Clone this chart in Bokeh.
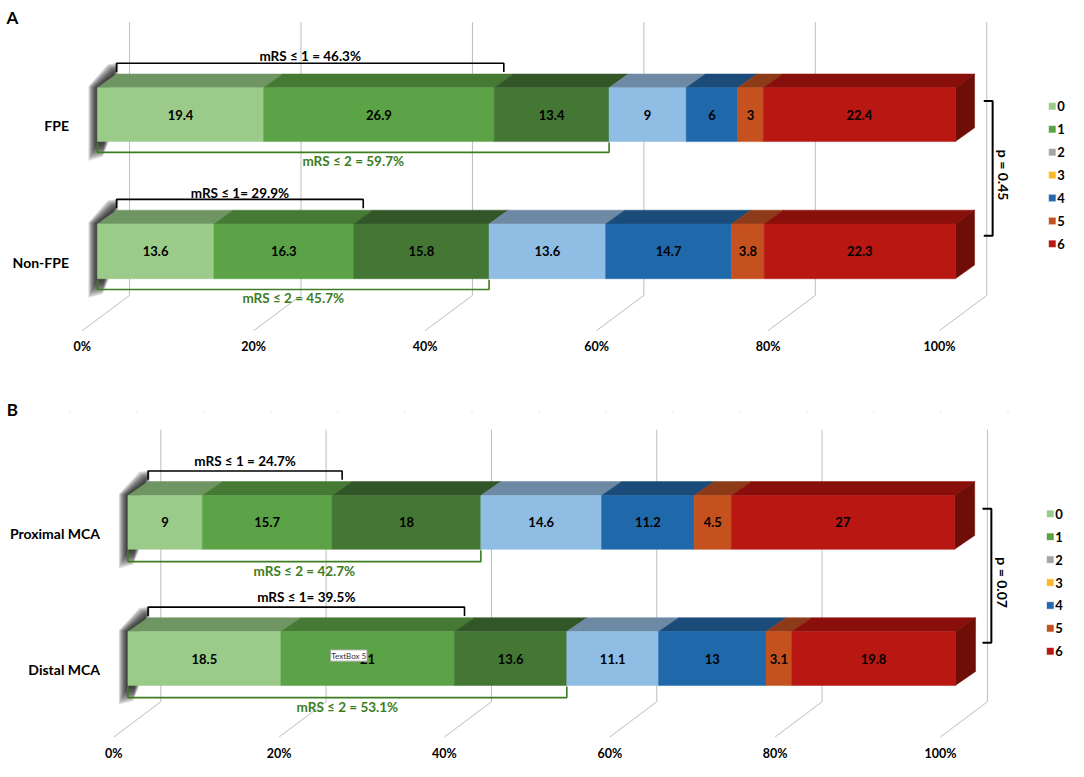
import numpy as np
from bokeh.plotting import figure
from bokeh.models import Range1d
from bokeh.layouts import column
from bokeh.embed import file_html
from bokeh.resources import INLINE
from bokeh.core.properties import value

# ---------------- data ----------------
scores = ["0", "1", "2", "3", "4", "5", "6"]
pct_ticks = [0, 20, 40, 60, 80, 100]
pct_labels = ["0%", "20%", "40%", "60%", "80%", "100%"]

a_groups = ["FPE", "Non-FPE"]
a_fpe = [19.4, 26.9, 13.4, 9, 6, 3, 22.4]
a_nonfpe = [13.6, 16.3, 15.8, 13.6, 14.7, 3.8, 22.3]
a_mrs1 = [46.3, 29.9]
a_mrs2 = [59.7, 45.7]
a_mrs1_labels = ["mRS \u2264 1 = 46.3%", "mRS \u2264 1= 29.9%"]
a_mrs2_labels = ["mRS \u2264 2 = 59.7%", "mRS \u2264 2 = 45.7%"]
a_p = "p = 0.45"

b_groups = ["Proximal MCA", "Distal MCA"]
b_prox = [9, 15.7, 18, 14.6, 11.2, 4.5, 27]
b_dist = [18.5, 21, 13.6, 11.1, 13, 3.1, 19.8]
b_mrs1 = [24.7, 39.5]
b_mrs2 = [42.7, 53.1]
b_mrs1_labels = ["mRS \u2264 1 = 24.7%", "mRS \u2264 1= 39.5%"]
b_mrs2_labels = ["mRS \u2264 2 = 42.7%", "mRS \u2264 2 = 53.1%"]
b_p = "p = 0.07"

# ---------------- styles ----------------
FRONT = ["#9BCB88", "#5BA346", "#437733", "#8FBDE3", "#1F69AB", "#C5511F", "#B81712"]
TOP = ["#6F9563", "#457934", "#335628", "#6D89A3", "#1B4B78", "#8D3A18", "#880F0B"]
SIDE = "#6E0E07"
LEGEND = ["#9BCB88", "#5BA346", "#A5A5A5", "#FDB827", "#2468AE", "#C5511F", "#B81712"]
GREEN_TXT = "#3C7D22"
FONT = value("Lato")

cfgA = dict(s=8.70, x0=131.0, ygt=22, yfb=301, fdx=-48, fdy=36, df=-32.7, dd=19.5, dyd=14,
            bars=[(89, 144), (228, 284)], tick_y=353, cat_x=69.5, p_x=1007, leg_x=1067.5,
            leg_y0=108, m1_dy=-25, m1_tdy=-32, m2_dy=11, m2_tdy=20,
            y0=0, y1=395, height=387, letter="A", letter_xy=(12, 17), dots=None)
cfgB = dict(s=8.39, x0=162.7, ygt=438, yfb=716, fdx=-47.7, fdy=36, df=-33.4, dd=20.5, dyd=14.2,
            bars=[(505.3, 560.3), (644.3, 699.3)], tick_y=769, cat_x=101, p_x=1005.7, leg_x=1065.5,
            leg_y0=524, m1_dy=-25, m1_tdy=-35, m2_dy=12.5, m2_tdy=22,
            y0=395, y1=777, height=374, letter="B", letter_xy=(12, 417), dots=419.5)


def make_panel(cfg, groups, series, mrs1, mrs2, m1_labels, m2_labels, p_label, textbox=None):
    s, x0 = cfg["s"], cfg["x0"]

    def X(px):  # reference pixel -> percent units
        return (px - x0) / s

    p = figure(width=1068, height=cfg["height"],
               x_range=Range1d(X(0), X(1084)), y_range=Range1d(cfg["y1"], cfg["y0"]),
               output_backend="svg", toolbar_location=None, min_border=0,
               x_axis_location=None, y_axis_location=None)
    p.grid.visible = False
    p.outline_line_color = None

    # panel letter
    lx, ly = cfg["letter_xy"]
    p.text(x=[X(lx)], y=[ly], text=[cfg["letter"]], text_font=FONT, text_font_style="bold",
           text_font_size="17px", text_align="center", text_baseline="middle", text_color="black")

    if cfg["dots"] is not None:
        p.line(x=[X(70), X(1082)], y=[cfg["dots"]] * 2, line_color="#D6D6D6", line_width=1.5,
               line_dash="1 66")

    # 3D gridlines: back wall verticals + floor diagonals
    fdx, fdy = cfg["fdx"] / s, cfg["fdy"]
    xs = [[t, t, t + fdx] for t in pct_ticks]
    ys = [[cfg["ygt"], cfg["yfb"], cfg["yfb"] + fdy] for _ in pct_ticks]
    p.multi_line(xs=xs, ys=ys, line_color="#BDBDBD", line_width=1)
    p.text(x=[t + fdx for t in pct_ticks], y=[cfg["tick_y"]] * len(pct_ticks), text=pct_labels,
           text_font=FONT, text_font_style="bold", text_font_size="12.5px",
           text_align="center", text_baseline="middle", text_color="black")

    df, dd, dyd = cfg["df"] / s, cfg["dd"] / s, cfg["dyd"]
    xf_px = x0 + cfg["df"]
    xb_px = xf_px + cfg["dd"]

    for gi, vals in enumerate(series):
        ytop, ybot = cfg["bars"][gi]
        # soft shadow on the left of each bar (many faint layers -> blur)
        for w in np.linspace(13, 1.5, 10):
            pts = [(xb_px + 2, ytop - dyd - w * 0.9), (xb_px - w * 0.7, ytop - dyd - w * 0.75),
                   (xf_px - w * 0.7, ytop - w * 0.1), (xf_px - w * 0.7, ybot + w * 1.5),
                   (xf_px + 12 - w * 0.5, ybot + w * 1.2), (xf_px + 12, ytop)]
            p.patch(x=[X(a) for a, b in pts], y=[b for a, b in pts], fill_color="#111111",
                    fill_alpha=0.14, line_color=None)

        cum = np.cumsum(vals)
        lefts = np.concatenate([[0], cum[:-1]])
        # top faces
        txs, tys = [], []
        for l, r in zip(lefts, cum):
            txs.append([l + df, r + df, r + df + dd, l + df + dd])
            tys.append([ytop, ytop, ytop - dyd, ytop - dyd])
        p.patches(xs=txs, ys=tys, fill_color=TOP, line_color=TOP, line_width=0.5)
        # right side face
        R = cum[-1] + df
        p.patch(x=[R, R + dd, R + dd, R], y=[ytop, ytop - dyd, ybot - dyd, ybot],
                fill_color=SIDE, line_color=SIDE, line_width=0.5)
        # front faces
        p.quad(left=lefts + df, right=cum + df, top=ytop, bottom=ybot,
               fill_color=FRONT, line_color=FRONT, line_width=0.5)
        # value labels
        p.text(x=(lefts + cum) / 2 + df, y=[(ytop + ybot) / 2] * len(vals),
               text=[f"{v:g}" for v in vals], text_font=FONT, text_font_style="bold",
               text_font_size="13px", text_align="center", text_baseline="middle",
               text_color="black")
        # category label
        p.text(x=[X(cfg["cat_x"])], y=[(ytop + ybot) / 2 + 11], text=[groups[gi]],
               text_font=FONT, text_font_style="bold", text_font_size="14px",
               text_align="right", text_baseline="middle", text_color="black")

        # mRS <= 1 bracket (black, above)
        ys1 = ytop + cfg["m1_dy"]
        xs1, xe1 = df + dd, mrs1[gi] + df + dd * 0.5
        p.line(x=[xs1, xs1, xe1, xe1], y=[ytop - 16, ys1, ys1, ytop - 16], line_color="black",
               line_width=1.6)
        p.text(x=[(xs1 + xe1) / 2], y=[ytop + cfg["m1_tdy"]], text=[m1_labels[gi]],
               text_font=FONT, text_font_style="bold", text_font_size="13.5px",
               text_align="center", text_baseline="middle", text_color="black")
        # mRS <= 2 bracket (green, below)
        ys2 = ybot + cfg["m2_dy"]
        xs2, xe2 = df, mrs2[gi] + df
        p.line(x=[xs2, xs2, xe2, xe2], y=[ybot + 1, ys2, ys2, ybot + 1], line_color=GREEN_TXT,
               line_width=1.6)
        p.text(x=[(xs2 + xe2) / 2], y=[ybot + cfg["m2_tdy"]], text=[m2_labels[gi]],
               text_font=FONT, text_font_style="bold", text_font_size="13.5px",
               text_align="center", text_baseline="middle", text_color=GREEN_TXT)

    # p-value bracket
    c1 = sum(cfg["bars"][0]) / 2
    c2 = sum(cfg["bars"][1]) / 2
    top, bot = c1 - 14, c2 - 16
    px_ = X(cfg["p_x"])
    p.line(x=[px_ - 9 / s, px_, px_, px_ - 9 / s], y=[top, top, bot, bot], line_color="black",
           line_width=2)
    p.text(x=[X(cfg["p_x"] + 11)], y=[(top + bot) / 2 + 7], text=[p_label], angle=-np.pi / 2,
           text_font=FONT, text_font_style="bold", text_font_size="14px",
           text_align="center", text_baseline="middle", text_color="black")

    # legend
    ly0 = cfg["leg_y0"]
    p.scatter(x=[X(cfg["leg_x"])] * len(scores), y=[ly0 + i * 23.4 for i in range(len(scores))],
              marker="square", size=7.5, fill_color=LEGEND, line_color="white", line_width=0.6)
    p.text(x=[X(cfg["leg_x"] + 5)] * len(scores), y=[ly0 + i * 23.4 for i in range(len(scores))],
           text=scores, text_font=FONT, text_font_style="bold", text_font_size="13px",
           text_align="left", text_baseline="middle", text_color="black")

    if textbox is not None:
        (bx0, bx1, by0, by1), label = textbox
        p.quad(left=[X(bx0)], right=[X(bx1)], top=[by0], bottom=[by1], fill_color="white",
               line_color="#A8A8A8", line_width=1)
        p.text(x=[X((bx0 + bx1) / 2)], y=[(by0 + by1) / 2], text=[label], text_font=FONT,
               text_font_size="8px", text_align="center", text_baseline="middle",
               text_color="#333333")
    return p


pA = make_panel(cfgA, a_groups, [a_fpe, a_nonfpe], a_mrs1, a_mrs2, a_mrs1_labels, a_mrs2_labels, a_p)
pB = make_panel(cfgB, b_groups, [b_prox, b_dist], b_mrs1, b_mrs2, b_mrs1_labels, b_mrs2_labels, b_p,
                textbox=((335, 372, 663, 674.5), "TextBox 5"))

layout = column(pA, pB, spacing=0)
open("out.html", "w").write(file_html(layout, INLINE))
